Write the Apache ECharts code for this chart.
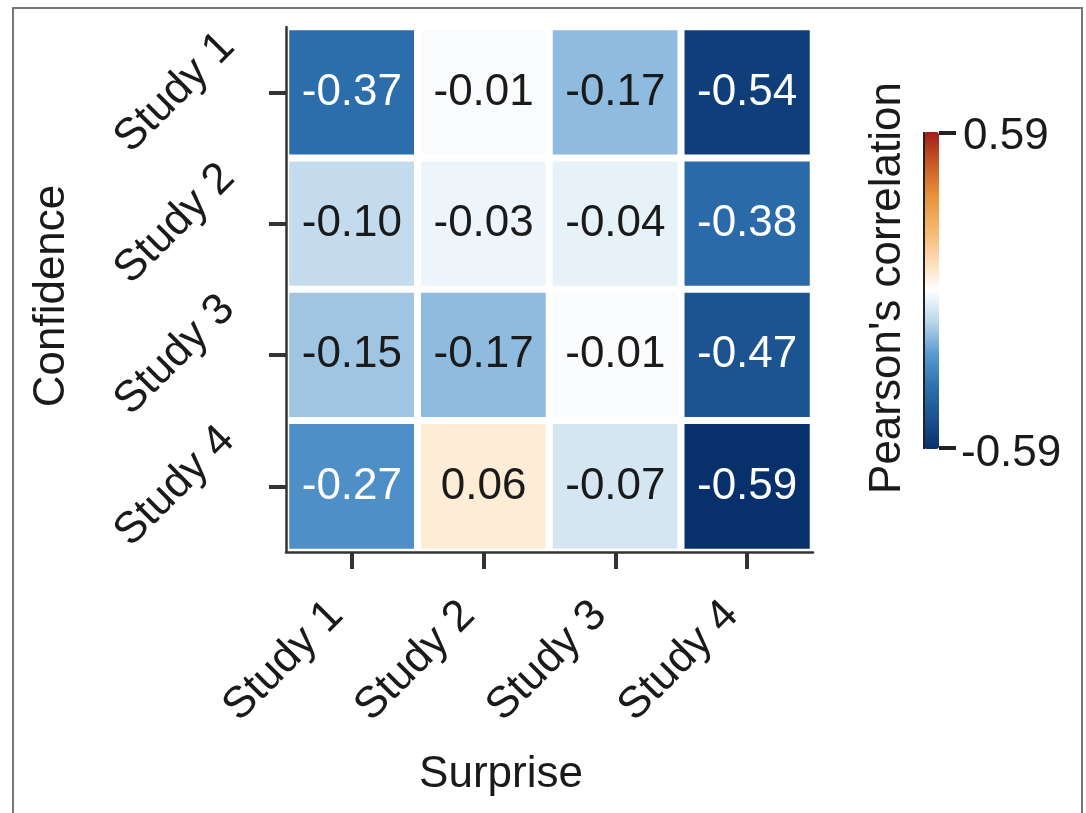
<!DOCTYPE html>
<html>
<head>
<meta charset="utf-8">
<script src="https://cdn.jsdelivr.net/npm/echarts@6/dist/echarts.min.js"></script>
<style>
  html, body { margin: 0; padding: 0; background: #ffffff; }
  #chart { width: 1086px; height: 813px; }
</style>
</head>
<body>
<div id="chart"></div>
<script>
// ---- data ----
const surpriseStudies = ['Study 1', 'Study 2', 'Study 3', 'Study 4'];
const confidenceStudies = ['Study 1', 'Study 2', 'Study 3', 'Study 4'];
// rows: Confidence study; columns: Surprise study 1..4
const confidenceStudy1 = [-0.37, -0.01, -0.17, -0.54];
const confidenceStudy2 = [-0.10, -0.03, -0.04, -0.38];
const confidenceStudy3 = [-0.15, -0.17, -0.01, -0.47];
const confidenceStudy4 = [-0.27, 0.06, -0.07, -0.59];
const colorMin = -0.59;
const colorMax = 0.59;
const colorbarLabels = ['0.59', '-0.59'];

const rows = [confidenceStudy1, confidenceStudy2, confidenceStudy3, confidenceStudy4];
const FONT = '"Liberation Sans", Arial, sans-serif';
const TXT = '#1a1a1a';

const heatData = [];
rows.forEach((row, yi) => {
  row.forEach((v, xi) => {
    heatData.push({
      value: [xi, yi, v],
      label: { color: Math.abs(v) >= 0.25 ? '#ffffff' : TXT }
    });
  });
});

const chart = echarts.init(document.getElementById('chart'), null, { renderer: 'canvas' });

const gridLeft = 286, gridTop = 27, gridW = 527, gridH = 525;
const cbLeft = 924, cbTop = 132, cbW = 15, cbH = 317;

chart.setOption({
  backgroundColor: '#ffffff',
  animation: false,
  grid: { left: gridLeft, top: gridTop, width: gridW, height: gridH, containLabel: false },
  xAxis: {
    type: 'category',
    data: surpriseStudies,
    z: 10,
    splitArea: { show: false },
    axisLine: { show: true, lineStyle: { color: '#333', width: 2.5 } },
    axisTick: { show: true, alignWithLabel: true, length: 17, lineStyle: { color: '#333', width: 4 } },
    axisLabel: {
      rotate: 45, align: 'right', verticalAlign: 'bottom', margin: 72,
      fontSize: 44, fontFamily: FONT, color: TXT
    }
  },
  yAxis: {
    type: 'category',
    data: confidenceStudies,
    inverse: true,
    z: 10,
    splitArea: { show: false },
    axisLine: { show: true, lineStyle: { color: '#333', width: 2.5 } },
    axisTick: { show: true, alignWithLabel: true, length: 17, lineStyle: { color: '#333', width: 4 } },
    axisLabel: {
      rotate: 45, align: 'center', verticalAlign: 'middle', margin: 111,
      fontSize: 44, fontFamily: FONT, color: TXT
    }
  },
  visualMap: {
    type: 'continuous',
    min: colorMin,
    max: colorMax,
    orient: 'vertical',
    left: cbLeft,
    top: cbTop,
    itemWidth: cbW,
    itemHeight: cbH,
    padding: 0,
    calculable: false,
    hoverLink: false,
    realtime: false,
    showLabel: false,
    inRange: {
      color: ['#08306b', '#1c5290', '#2f71b0', '#5a9bd0', '#b9d5ea', '#ffffff',
              '#fbd9ae', '#f4b56a', '#e8913a', '#c85a26', '#a11d1a']
    }
  },
  series: [{
    type: 'heatmap',
    data: heatData,
    itemStyle: { borderColor: '#ffffff', borderWidth: 7 },
    label: {
      show: true, fontSize: 44, fontFamily: FONT,
      formatter: p => p.value[2].toFixed(2)
    },
    emphasis: { disabled: true }
  }],
  graphic: [
    { type: 'rect', silent: true, z: 100,
      shape: { x: 13, y: 8, width: 1069, height: 820 },
      style: { fill: 'none', stroke: '#777', lineWidth: 2 } },
    // colorbar frame line and ticks
    { type: 'line', silent: true, z: 100,
      shape: { x1: cbLeft, y1: cbTop, x2: cbLeft, y2: cbTop + cbH },
      style: { stroke: '#222', lineWidth: 2 } },
    { type: 'line', silent: true, z: 100,
      shape: { x1: cbLeft + cbW, y1: cbTop + 1, x2: cbLeft + cbW + 17, y2: cbTop + 1 },
      style: { stroke: '#222', lineWidth: 4 } },
    { type: 'line', silent: true, z: 100,
      shape: { x1: cbLeft + cbW, y1: cbTop + cbH - 1, x2: cbLeft + cbW + 17, y2: cbTop + cbH - 1 },
      style: { stroke: '#222', lineWidth: 4 } },
    { type: 'text', silent: true, z: 100, x: 963, y: cbTop + 5,
      style: { text: colorbarLabels[0], font: '44px ' + FONT, fill: TXT, align: 'left', verticalAlign: 'middle' } },
    { type: 'text', silent: true, z: 100, x: 961, y: cbTop + cbH + 5,
      style: { text: colorbarLabels[1], font: '44px ' + FONT, fill: TXT, align: 'left', verticalAlign: 'middle' } },
    { type: 'text', silent: true, z: 100, x: 888, y: 288, rotation: Math.PI / 2,
      style: { text: "Pearson's correlation", font: '44px ' + FONT, fill: TXT, align: 'center', verticalAlign: 'middle' } },
    { type: 'text', silent: true, z: 100, x: 52, y: 296, rotation: Math.PI / 2,
      style: { text: 'Confidence', font: '44px ' + FONT, fill: TXT, align: 'center', verticalAlign: 'middle' } },
    { type: 'text', silent: true, z: 100, x: 501, y: 775,
      style: { text: 'Surprise', font: '44px ' + FONT, fill: TXT, align: 'center', verticalAlign: 'middle' } }
  ]
});
</script>
</body>
</html>
